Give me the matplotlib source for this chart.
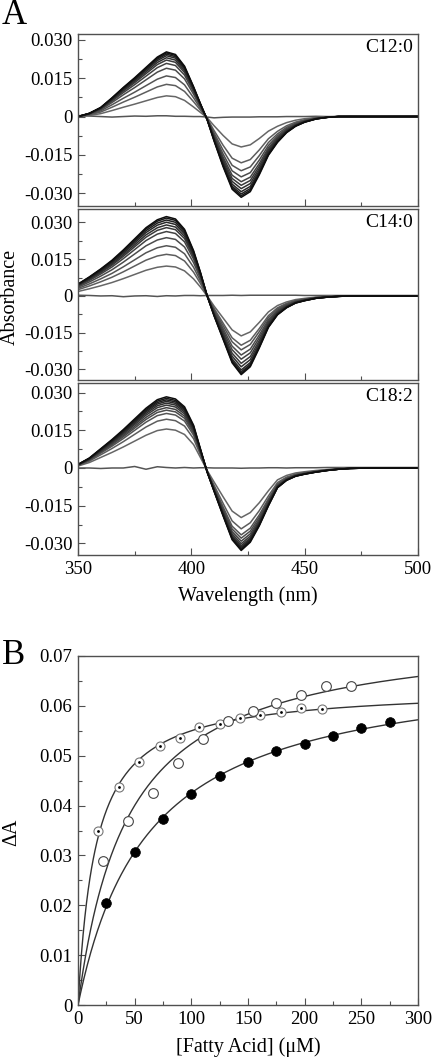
import numpy as np
import matplotlib
matplotlib.use("Agg")
import matplotlib.pyplot as plt
from matplotlib.ticker import MultipleLocator, FuncFormatter

plt.rcParams['font.family'] = ['Liberation Serif', 'DejaVu Serif']

# ---------------- Panel A data ----------------
wavelength = [350, 355, 360, 365, 370, 375, 380, 385, 389, 393, 397, 401, 404, 407,
              410, 414, 418, 422, 426, 430, 434, 438, 442, 446, 450, 455, 460, 465,
              470, 480, 490, 500]

shape_c12 = [0.0, 0.05, 0.14, 0.29, 0.45, 0.60, 0.76, 0.92, 1.0, 0.96, 0.78, 0.46, 0.20, -0.04,
             -0.30, -0.62, -0.90, -1.0, -0.93, -0.72, -0.48, -0.32, -0.20, -0.12, -0.07, -0.03,
             -0.01, 0.0, 0.0, 0.0, 0.0, 0.0]
shape_c14 = [0.15, 0.24, 0.34, 0.45, 0.58, 0.72, 0.86, 0.96, 1.0, 0.97, 0.84, 0.57, 0.30, 0.0,
             -0.25, -0.55, -0.85, -1.0, -0.90, -0.66, -0.40, -0.24, -0.15, -0.09, -0.06, -0.03,
             -0.015, -0.005, 0.0, 0.0, 0.0, 0.0]
shape_c18 = [0.05, 0.14, 0.27, 0.40, 0.54, 0.69, 0.84, 0.96, 1.0, 0.97, 0.86, 0.60, 0.27, -0.05,
             -0.28, -0.58, -0.87, -1.0, -0.90, -0.70, -0.46, -0.24, -0.15, -0.10, -0.075, -0.05,
             -0.03, -0.015, -0.005, 0.0, 0.0, 0.0]

peaks_c12 = [0.0081, 0.0126, 0.0159, 0.0189, 0.0208, 0.0221, 0.0230, 0.0238, 0.0244, 0.0249, 0.0253]
troughs_c12 = [-0.0119, -0.0181, -0.0212, -0.0236, -0.0255, -0.0269, -0.0282, -0.0294, -0.0303, -0.0310, -0.0316]
peaks_c14 = [0.0122, 0.0170, 0.0205, 0.0238, 0.0263, 0.0279, 0.0290, 0.0301, 0.0310, 0.0318, 0.0324]
troughs_c14 = [-0.0163, -0.0201, -0.0220, -0.0241, -0.0258, -0.0275, -0.0289, -0.0302, -0.0310, -0.0316, -0.0321]
peaks_c18 = [0.0155, 0.0194, 0.0217, 0.0230, 0.0240, 0.0250, 0.0258, 0.0265, 0.0271, 0.0277, 0.0283]
troughs_c18 = [-0.0197, -0.0242, -0.0266, -0.0279, -0.0291, -0.0301, -0.0309, -0.0315, -0.0320, -0.0324, -0.0328]

baseline_c12 = [0.0004, 0.0002, 0.0, -0.0002, 0.0, 0.0002, 0.0001, 0.0003, 0.0003, 0.0001, 0.0001,
                0.0, 0.0, -0.0002, -0.0005, -0.0003, -0.0002, -0.0002, -0.0002, -0.0001, -0.0001,
                -0.0001, 0.0, 0.0, 0.0, 0.0001, 0.0, 0.0, 0.0001, 0.0, 0.0001, 0.0002]
baseline_c14 = [0.0003, 0.0002, 0.0, 0.0001, -0.0003, 0.0, 0.0001, -0.0002, 0.0001, 0.0, 0.0002,
                0.0002, 0.0001, 0.0002, 0.0002, 0.0002, 0.0003, 0.0002, 0.0003, 0.0003, 0.0003,
                0.0003, 0.0003, 0.0003, 0.0002, 0.0002, 0.0002, 0.0002, 0.0002, 0.0002, 0.0002, 0.0002]
baseline_c18 = [0.0, 0.0, -0.0002, 0.0, 0.0, 0.0006, -0.0005, 0.0005, 0.0002, 0.0, 0.0002, 0.0,
                0.0001, 0.0001, 0.0, 0.0, 0.0, -0.0001, 0.0, 0.0, 0.0001, 0.0001, 0.0, 0.0001,
                0.0001, 0.0001, 0.0002, 0.0002, 0.0002, 0.0002, 0.0002, 0.0002]

panel_labels = ["C12:0", "C14:0", "C18:2"]

# ---------------- Panel B data ----------------
x_dot = [18, 36, 54, 72, 90, 107, 125, 143, 161, 179, 197, 215]
y_dot = [0.0348, 0.0438, 0.0488, 0.0519, 0.0536, 0.0557, 0.0563, 0.0575, 0.0582, 0.0587, 0.0596, 0.0593]
x_open = [22, 44, 66, 88, 110, 132, 154, 175, 197, 219, 241]
y_open = [0.0289, 0.0370, 0.0425, 0.0486, 0.0534, 0.0570, 0.0590, 0.0606, 0.0622, 0.0639, 0.0639]
x_fill = [25, 50, 75, 100, 125, 150, 175, 200, 225, 250, 275]
y_fill = [0.0204, 0.0307, 0.0374, 0.0423, 0.0460, 0.0487, 0.0510, 0.0523, 0.0540, 0.0556, 0.0567]

# ---------------- Figure ----------------
fig = plt.figure(figsize=(4.33, 10.62), dpi=100)
W, H = 433.0, 1062.0
left = 78 / W
width = 340 / W

def px_axes(top, bottom):
    return [left, 1 - bottom / H, width, (bottom - top) / H]

spine_col = '#505050'

def style_axes(ax):
    for s in ax.spines.values():
        s.set_color(spine_col)
        s.set_linewidth(1.0)
    ax.tick_params(which='both', direction='in', top=False, right=False, color=spine_col,
                   labelsize=13.5, pad=4)
    ax.tick_params(which='major', length=5, width=0.8)
    ax.tick_params(which='minor', length=3, width=0.8)

def fmt_a(v, pos):
    if abs(v) < 1e-9:
        return "0"
    return "%.3f" % v

panels = [
    (34, 206, shape_c12, peaks_c12, troughs_c12, baseline_c12, (-0.0350, 0.0323)),
    (209, 380, shape_c14, peaks_c14, troughs_c14, baseline_c14, (-0.0343, 0.0355)),
    (383, 555, shape_c18, peaks_c18, troughs_c18, baseline_c18, (-0.0346, 0.0338)),
]

wl = np.array(wavelength)
axes_a = []
for i, (top, bottom, shape, peaks, troughs, base, ylim) in enumerate(panels):
    ax = fig.add_axes(px_axes(top, bottom))
    shp = np.array(shape)
    ax.plot(wl, base, color='#555555', lw=1.1)
    n = len(peaks)
    for j, (p, t) in enumerate(zip(peaks, troughs)):
        y = np.where(shp > 0, shp * p, -shp * t)
        g = 0.40 - 0.35 * j / (n - 1)
        ax.plot(wl, y, color=(g, g, g), lw=1.1)
    ax.set_xlim(350, 500)
    ax.set_ylim(*ylim)
    ax.yaxis.set_major_locator(MultipleLocator(0.015))
    ax.yaxis.set_minor_locator(MultipleLocator(0.0075))
    ax.yaxis.set_major_formatter(FuncFormatter(fmt_a))
    ax.xaxis.set_major_locator(MultipleLocator(50))
    ax.xaxis.set_minor_locator(MultipleLocator(25))
    style_axes(ax)
    if i < 2:
        ax.tick_params(labelbottom=False)
    ax.text(0.985, 0.92, panel_labels[i], transform=ax.transAxes, ha='right', va='center',
            fontsize=14)
    axes_a.append(ax)

axes_a[2].set_xlabel("Wavelength (nm)", fontsize=14.5, labelpad=6)
fig.text(10 / W, 1 - 297 / H, "Absorbance", rotation=90, ha='center', va='center', fontsize=14.5)
fig.text(2 / W, 1 - 16 / H, "A", ha='left', va='center', fontsize=25)

# ---------------- Panel B ----------------
axb = fig.add_axes(px_axes(656, 1005))

def fit_hyperbola(x, y):
    x = np.asarray(x, float)
    y = np.asarray(y, float)
    best = None
    for K in np.linspace(1, 200, 4000):
        f = x / (K + x)
        B = np.sum(y * f) / np.sum(f * f)
        r = np.sum((y - B * f) ** 2)
        if best is None or r < best[0]:
            best = (r, K, B)
    return best[1], best[2]

xs = np.linspace(0, 300, 400)
for xd, yd in [(x_dot, y_dot), (x_open, y_open), (x_fill, y_fill)]:
    K, B = fit_hyperbola(xd, yd)
    axb.plot(xs, B * xs / (K + xs), color='#333333', lw=1.0)

axb.plot(x_dot, y_dot, 'o', ms=6.5, mfc='white', mec='#777777', mew=0.8, ls='none')
axb.plot(x_dot, y_dot, 'o', ms=2.0, mfc='black', mec='black', mew=0, ls='none')
axb.plot(x_open, y_open, 'o', ms=7, mfc='white', mec='#444444', mew=0.8, ls='none')
axb.plot(x_fill, y_fill, 'o', ms=7, mfc='black', mec='black', mew=0.5, ls='none')

axb.set_xlim(0, 300)
axb.set_ylim(0, 0.07)
axb.xaxis.set_major_locator(MultipleLocator(50))
axb.xaxis.set_minor_locator(MultipleLocator(25))
axb.yaxis.set_major_locator(MultipleLocator(0.01))
axb.yaxis.set_minor_locator(MultipleLocator(0.005))

def fmt_b(v, pos):
    if abs(v) < 1e-9:
        return "0"
    return "%.2f" % v

axb.yaxis.set_major_formatter(FuncFormatter(fmt_b))
style_axes(axb)
axb.set_xlabel("[Fatty Acid] (\u03bcM)", fontsize=14.5, labelpad=7)
fig.text(12 / W, 1 - 832 / H, "\u0394A", rotation=90, ha='center', va='center', fontsize=14.5)
fig.text(2 / W, 1 - 655 / H, "B", ha='left', va='center', fontsize=25)

fig.savefig("out.png", dpi=100)
